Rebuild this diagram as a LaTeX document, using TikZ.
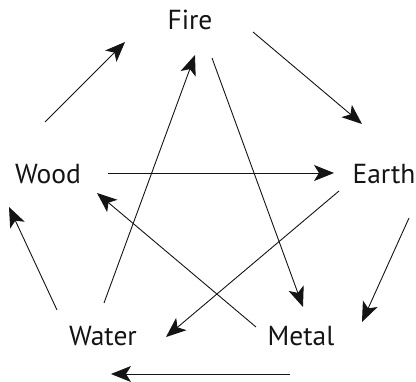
\documentclass[tikz,border=0pt]{standalone}
\usepackage{fontspec}
\setmainfont{PT Sans}
\usetikzlibrary{arrows.meta}
\begin{document}
\begin{tikzpicture}[x=1pt,y=-1pt,
  lbl/.style={font=\fontsize{27.5}{32}\selectfont, inner sep=0pt, text=black!92},
  arr/.style={line width=0.9pt, draw=black!92, -{Stealth[length=20pt,width=16pt,inset=5pt]}}]
\useasboundingbox (0,0) rectangle (416,382);
\node[lbl] (fire) at (190,20) {Fire};
\node[lbl] (wood) at (48,174) {Wood};
\node[lbl] (earth) at (384,174) {Earth};
\node[lbl] (water) at (103,336) {Water};
\node[lbl] (metal) at (301,336) {Metal};
% arrow endpoints
\coordinate (a1s) at (45,122);  \coordinate (a1e) at (125,42);
\coordinate (a2s) at (253,32);  \coordinate (a2e) at (362,124);
\coordinate (a3s) at (409,218); \coordinate (a3e) at (362,322);
\coordinate (a4s) at (290,374); \coordinate (a4e) at (111,374);
\coordinate (a5s) at (57,310);  \coordinate (a5e) at (9,207);
\coordinate (a6s) at (108,173); \coordinate (a6e) at (334,173);
\coordinate (a7s) at (104,303); \coordinate (a7e) at (195,55);
\coordinate (a8s) at (212,58);  \coordinate (a8e) at (303,307);
\coordinate (a9s) at (339,191); \coordinate (a9e) at (166,337);
\coordinate (a10s) at (256,327); \coordinate (a10e) at (97,193);
\draw[arr] (a1s) -- (a1e);
\draw[arr] (a2s) -- (a2e);
\draw[arr] (a3s) -- (a3e);
\draw[arr] (a4s) -- (a4e);
\draw[arr] (a5s) -- (a5e);
\draw[arr] (a6s) -- (a6e);
\draw[arr] (a7s) -- (a7e);
\draw[arr] (a8s) -- (a8e);
\draw[arr] (a9s) -- (a9e);
\draw[arr] (a10s) -- (a10e);
\end{tikzpicture}
\end{document}
